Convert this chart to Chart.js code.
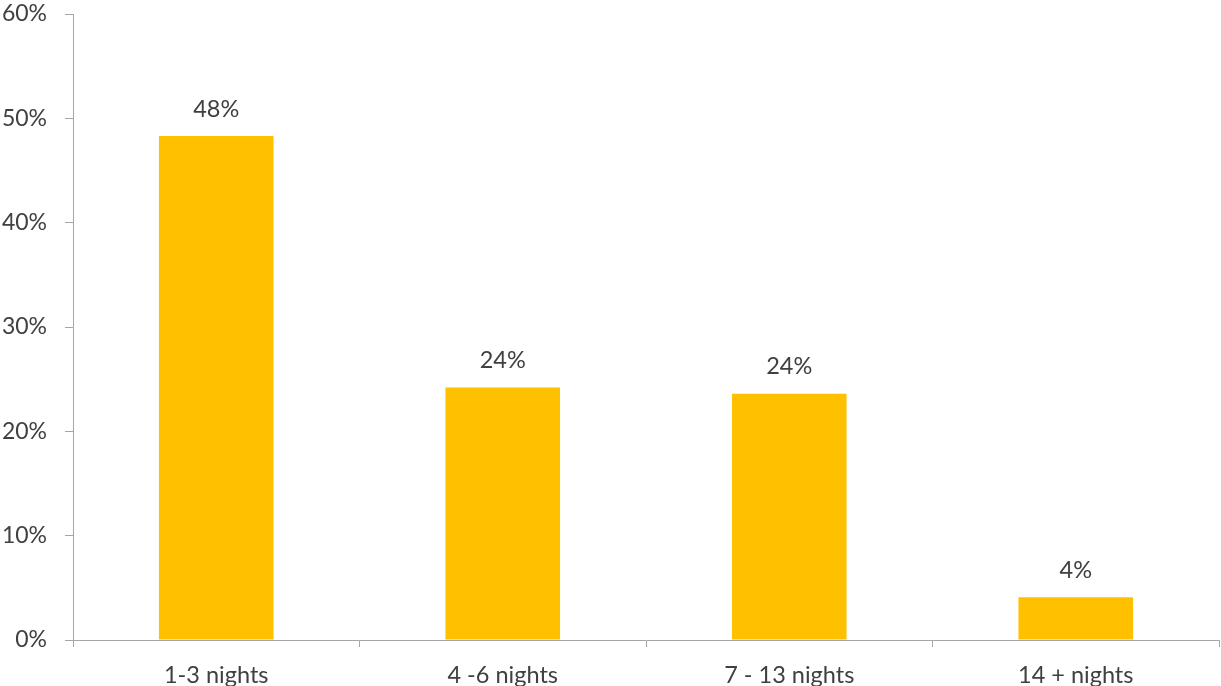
<!DOCTYPE html>
<html lang="en">
<head>
    <meta charset="UTF-8">
    <title>Length of stay</title>
    <script src="https://cdn.jsdelivr.net/npm/chart.js@4"></script>
    <style>
        html, body { margin: 0; padding: 0; background: #fff; }
        #wrap { width: 1221px; height: 686px; position: relative; }
    </style>
</head>
<body>
    <div id="wrap"><canvas id="myChart" width="1221" height="686"></canvas></div>
    <script>
        // Share of stays by number of nights
        const categories = ['1-3 nights', '4 -6 nights', '7 - 13 nights', '14 + nights'];
        const shares = [48.3, 24.2, 23.6, 4.1];
        const yTicks = [0, 10, 20, 30, 40, 50, 60];

        const FONT = 'Lato, "Open Sans", sans-serif';
        const TEXT = '#404040';
        const AXIS = '#a6a6a6';

        // value labels above each bar
        const barLabels = {
            id: 'barLabels',
            afterDatasetsDraw(chart) {
                const ctx = chart.ctx;
                const meta = chart.getDatasetMeta(0);
                ctx.save();
                ctx.font = '23.5px ' + FONT;
                ctx.fillStyle = TEXT;
                ctx.textAlign = 'center';
                ctx.textBaseline = 'middle';
                meta.data.forEach((bar, i) => {
                    ctx.fillText(Math.round(shares[i]) + '%', bar.x, bar.y - 27);
                });
                ctx.restore();
            }
        };

        const ctx = document.getElementById('myChart').getContext('2d');
        new Chart(ctx, {
            type: 'bar',
            data: {
                labels: categories,
                datasets: [{
                    data: shares,
                    backgroundColor: '#ffc000',
                    categoryPercentage: 1,
                    barPercentage: 0.4
                }]
            },
            options: {
                responsive: false,
                animation: false,
                layout: { padding: { top: 14, right: 2, left: 0, bottom: 0 } },
                plugins: {
                    legend: { display: false },
                    tooltip: { enabled: false }
                },
                scales: {
                    x: {
                        offset: true,
                        grid: {
                            offset: true,
                            drawOnChartArea: false,
                            color: AXIS,
                            tickLength: 7
                        },
                        border: { color: AXIS, width: 1 },
                        ticks: {
                            color: TEXT,
                            font: { family: FONT, size: 23.5 },
                            padding: 14
                        },
                        afterFit(scale) {
                            scale.height = 46;
                            scale.paddingLeft = 0;
                            scale.paddingRight = 0;
                        }
                    },
                    y: {
                        min: 0,
                        max: 60,
                        afterBuildTicks(scale) {
                            scale.ticks = yTicks.map(v => ({ value: v }));
                        },
                        grid: {
                            drawOnChartArea: false,
                            color: AXIS,
                            tickLength: 8
                        },
                        border: { color: AXIS, width: 1 },
                        ticks: {
                            color: TEXT,
                            font: { family: FONT, size: 23 },
                            padding: 18,
                            callback: v => v + '%'
                        },
                        afterFit(scale) {
                            scale.width = 73;
                            // let the top tick label overhang the padding
                            scale.paddingTop = 0;
                            scale.paddingBottom = 0;
                        }
                    }
                }
            },
            plugins: [barLabels]
        });
    </script>
</body>
</html>
